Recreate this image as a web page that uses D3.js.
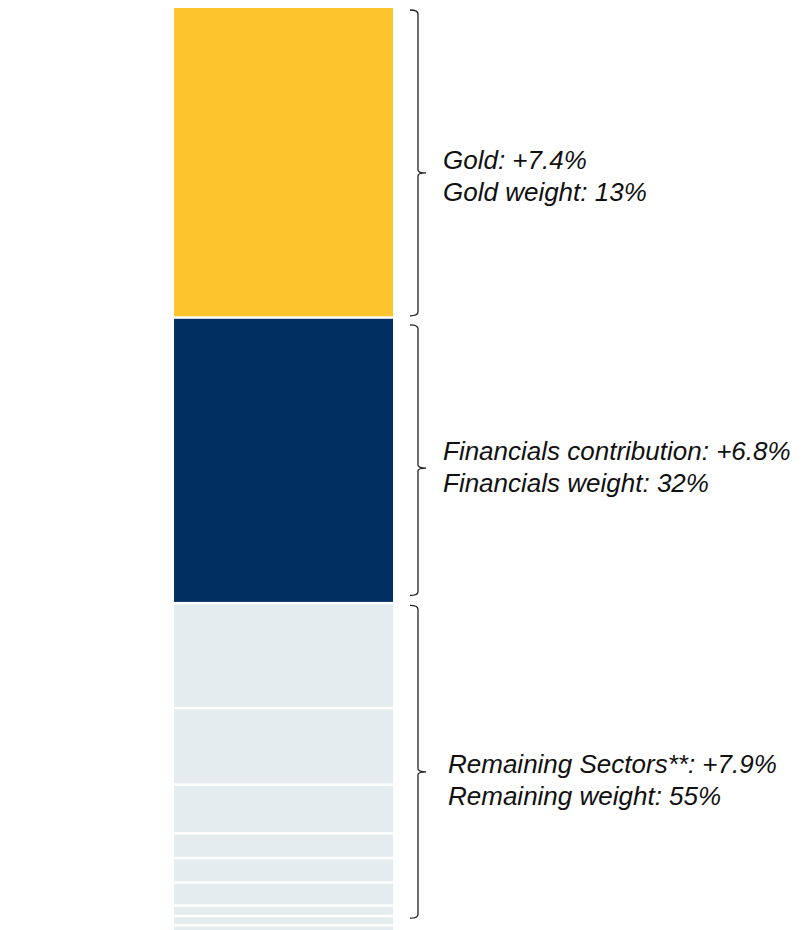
<!DOCTYPE html>
<html>
<head>
<meta charset="utf-8">
<script src="https://cdn.jsdelivr.net/npm/d3@7"></script>
<style>
  html, body { margin: 0; padding: 0; background: #fff; }
  svg { display: block; }
  .lbl { font-family: "Liberation Sans", Arial, sans-serif; font-style: italic; font-size: 26px; fill: #111; }
</style>
</head>
<body>
<svg id="chart" width="802" height="930"></svg>
<script>
// Return contribution by group (percentage points); segment height follows contribution
const groups = ["Gold", "Financials", "Remaining"];
const groupContribution = [7.4, 6.8, 7.9];
const groupWeight = [13, 32, 55];
const labelLine1 = ["Gold: +7.4%", "Financials contribution: +6.8%", "Remaining Sectors**: +7.9%"];
const labelLine2 = ["Gold weight: 13%", "Financials weight: 32%", "Remaining weight: 55%"];

// Individual sectors making up the "Remaining" block (contribution, pp)
const remainingSectors = [2.50, 1.82, 1.16, 0.59, 0.58, 0.55, 0.25, 0.22, 0.23];

const colors = { Gold: "#FEC42D", Financials: "#002F62", Remaining: "#E4ECF0" };

// Layout
const barX0 = 174, barX1 = 393;
const gap = 2.5;
const pxPerPoint = 42;
const topY = 8;
const total = d3.sum(groupContribution);

const svg = d3.select("#chart");
const y = d3.scaleLinear().domain([0, total]).range([topY, topY + total * pxPerPoint]);

// Build the stacked segments
const segments = [];
let acc = 0;
groups.forEach((g, i) => {
  if (g === "Remaining") {
    let a = acc;
    remainingSectors.forEach(v => { segments.push({ group: g, y0: a, y1: a + v }); a += v; });
  } else {
    segments.push({ group: g, y0: acc, y1: acc + groupContribution[i] });
  }
  acc += groupContribution[i];
});

svg.append("g").selectAll("rect")
  .data(segments)
  .join("rect")
  .attr("x", barX0)
  .attr("width", barX1 - barX0)
  .attr("y", d => y(d.y0))
  .attr("height", d => Math.max(0, y(d.y1) - y(d.y0) - gap))
  .attr("fill", d => colors[d.group]);

// Curly brackets beside each group
const bx0 = 410, bx1 = 418, bTip = 426;
const bracketInset = [[2, 3], [6, 9], [1, 18]];
const midShift = [10, 8, 10];
const textX = [443, 443, 448];
const textDy = [-4, -8, 1];

let start = 0;
groups.forEach((g, i) => {
  const end = start + groupContribution[i];
  const t = y(start) + bracketInset[i][0];
  const b = y(end) - bracketInset[i][1];
  const m = (t + b) / 2 + midShift[i];
  const r = 4;
  const p = d3.path();
  p.moveTo(bx0, t);
  p.quadraticCurveTo(bx1, t, bx1, t + r);
  p.lineTo(bx1, m - 3);
  p.quadraticCurveTo(bx1, m, bTip, m);
  p.quadraticCurveTo(bx1, m, bx1, m + 3);
  p.lineTo(bx1, b - r);
  p.quadraticCurveTo(bx1, b, bx0, b);
  svg.append("path")
    .attr("d", p.toString())
    .attr("fill", "none")
    .attr("stroke", "#222")
    .attr("stroke-width", 1.3);

  const txt = svg.append("text").attr("class", "lbl").attr("x", textX[i]).attr("y", m + textDy[i]);
  txt.append("tspan").attr("x", textX[i]).text(labelLine1[i]);
  txt.append("tspan").attr("x", textX[i]).attr("dy", 32).text(labelLine2[i]);
  start = end;
});
</script>
</body>
</html>
